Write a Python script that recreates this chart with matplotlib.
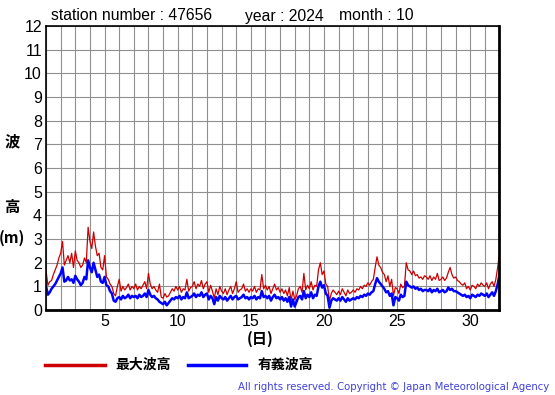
import numpy as np
import matplotlib
matplotlib.use('Agg')
from matplotlib import pyplot as plt

station = '47656'
year = 2024
month = 10
step_hours = 3

# significant wave height (m), 3-hourly from day 1 00h
sig_wave = [
    1.00, 0.65, 0.75, 0.90, 1.00, 1.10, 1.25, 1.40,
    1.55, 1.80, 1.20, 1.25, 1.40, 1.25, 1.30, 1.15,
    1.45, 1.30, 1.20, 1.05, 1.15, 1.40, 1.30, 2.10,
    1.80, 1.60, 2.00, 1.70, 1.40, 1.50, 1.20, 1.15,
    1.40, 1.05, 1.00, 0.80, 0.70, 0.40, 0.35, 0.50,
    0.55, 0.45, 0.60, 0.50, 0.55, 0.65, 0.50, 0.60,
    0.55, 0.60, 0.50, 0.65, 0.55, 0.60, 0.70, 0.55,
    0.85, 0.65, 0.55, 0.60, 0.50, 0.45, 0.35, 0.30,
    0.25, 0.35, 0.20, 0.30, 0.40, 0.50, 0.45, 0.55,
    0.50, 0.60, 0.45, 0.55, 0.50, 0.75, 0.50, 0.55,
    0.60, 0.70, 0.55, 0.65, 0.60, 0.75, 0.55, 0.65,
    0.70, 0.45, 0.60, 0.50, 0.25, 0.55, 0.40, 0.60,
    0.50, 0.45, 0.55, 0.40, 0.50, 0.60, 0.45, 0.55,
    0.60, 0.45, 0.50, 0.55, 0.65, 0.50, 0.55, 0.45,
    0.55, 0.50, 0.60, 0.45, 0.55, 0.50, 0.80, 0.55,
    0.60, 0.50, 0.60, 0.40, 0.55, 0.65, 0.50, 0.55,
    0.45, 0.55, 0.40, 0.50, 0.35, 0.55, 0.15, 0.45,
    0.15, 0.35, 0.55, 0.60, 0.45, 0.80, 0.50, 0.65,
    0.55, 0.75, 0.50, 0.65, 0.60, 1.00, 1.20, 0.95,
    1.05, 0.70, 0.60, 0.10, 0.40, 0.50, 0.45, 0.40,
    0.50, 0.40, 0.55, 0.45, 0.35, 0.50, 0.40, 0.45,
    0.50, 0.45, 0.55, 0.50, 0.60, 0.55, 0.65, 0.60,
    0.70, 0.65, 0.75, 0.80, 1.10, 1.35, 1.20, 1.10,
    1.00, 0.90, 0.75, 0.80, 0.60, 0.70, 0.20, 0.55,
    0.50, 0.40, 0.65, 0.55, 0.60, 1.20, 1.05, 1.00,
    0.95, 1.00, 0.90, 0.95, 0.85, 0.90, 0.80, 0.85,
    0.85, 0.80, 0.90, 0.75, 0.85, 0.80, 0.90, 0.75,
    0.80, 0.85, 0.75, 0.80, 0.95, 0.85, 0.90, 0.80,
    0.80, 0.75, 0.70, 0.65, 0.60, 0.65, 0.55, 0.60,
    0.50, 0.65, 0.60, 0.55, 0.65, 0.60, 0.70, 0.65,
    0.60, 0.70, 0.55, 0.65, 0.75, 0.60, 0.80, 1.10,
    1.50,
]

# maximum wave height (m)
max_wave = [
    1.65, 1.05, 1.20, 1.25, 1.50, 1.70, 1.90, 2.20,
    2.40, 2.90, 1.90, 2.10, 2.30, 2.00, 2.40, 1.80,
    2.50, 2.10, 2.00, 1.80, 1.90, 2.20, 2.00, 3.50,
    2.90, 2.60, 3.30, 2.70, 2.30, 2.40, 1.80, 1.70,
    2.30, 1.40, 1.30, 1.10, 1.00, 0.70, 0.60, 1.00,
    1.30, 0.80, 1.00, 0.85, 0.95, 1.10, 0.85, 1.00,
    0.90, 1.10, 0.85, 1.00, 0.90, 1.05, 1.20, 0.90,
    1.55, 1.10, 0.90, 1.00, 0.85, 0.75, 1.10, 0.55,
    0.50, 0.70, 0.55, 0.60, 0.75, 0.90, 0.80, 1.00,
    0.85, 1.00, 0.75, 0.90, 0.85, 1.30, 0.80, 0.95,
    1.00, 1.20, 0.90, 1.10, 1.00, 1.25, 0.90, 1.10,
    1.20, 0.75, 1.05, 0.80, 0.50, 0.90, 0.65, 1.00,
    0.80, 0.70, 0.90, 0.65, 0.85, 1.00, 0.70, 0.90,
    1.20, 0.75, 0.85, 0.90, 1.10, 0.80, 0.90, 0.75,
    0.90, 0.80, 1.00, 0.75, 0.90, 0.85, 1.50, 0.90,
    1.05, 0.85, 1.00, 0.70, 0.90, 1.10, 0.85, 0.95,
    0.75, 0.90, 0.70, 0.85, 0.60, 0.95, 0.40, 0.80,
    0.45, 0.60, 0.90, 1.00, 0.75, 1.55, 0.85, 1.05,
    0.90, 1.20, 0.85, 1.05, 1.00, 1.70, 2.00, 1.50,
    1.65, 1.10, 1.00, 0.40, 0.70, 0.85, 0.75, 0.65,
    0.80, 0.65, 0.90, 0.75, 0.60, 0.85, 0.70, 0.75,
    0.85, 0.75, 0.90, 0.85, 1.00, 0.90, 1.05, 1.00,
    1.15, 1.05, 1.20, 1.30, 1.80, 2.25, 1.90, 1.80,
    1.60, 1.50, 1.20, 1.45, 1.00, 1.30, 0.60, 0.95,
    0.90, 0.70, 1.10, 0.95, 1.00, 2.00, 1.70, 1.65,
    1.50, 1.65, 1.45, 1.50, 1.35, 1.40, 1.30, 1.45,
    1.40, 1.30, 1.45, 1.25, 1.40, 1.30, 1.55, 1.25,
    1.30, 1.40, 1.25, 1.35, 1.60, 1.80, 1.50, 1.35,
    1.40, 1.25, 1.20, 1.10, 1.05, 1.15, 0.90, 1.00,
    0.85, 1.05, 1.00, 0.90, 1.10, 1.00, 1.15, 1.05,
    1.00, 1.15, 0.90, 1.10, 1.20, 1.00, 1.30, 1.80,
    2.40,
]

x_ticks = [5, 10, 15, 20, 25, 30]
y_ticks = list(range(0, 13))
legend_labels = ['最大波高', '有義波高']

days = 1 + np.arange(len(sig_wave)) * step_hours / 24.0

plt.rcParams['font.family'] = ['Liberation Sans', 'DejaVu Sans']
cjk = ['Noto Sans CJK JP', 'DejaVu Sans']
W, H = 555.0, 395.0

fig = plt.figure(figsize=(5.55, 3.95), dpi=100)
ax = fig.add_axes([0.083, 0.215, 0.817, 0.719])

ax.plot(days, max_wave, color='#cc0000', lw=0.9)
ax.plot(days, sig_wave, color='#0000ff', lw=1.8)

ax.set_xlim(1, 32)
ax.set_ylim(0, 12)
ax.set_xticks(range(1, 33), minor=True)
ax.set_xticks(x_ticks)
ax.set_yticks(y_ticks)
ax.grid(True, which='both', color='#909090', lw=0.8)
ax.tick_params(which='both', length=0, labelsize=11.5, pad=3)
for s in ax.spines.values():
    s.set_linewidth(1.2)
ax.spines['right'].set_linewidth(2)
ax.spines['bottom'].set_linewidth(2)

# header
ty = 1 - 16 / H
fig.text(51 / W, ty, 'station number : %s' % station, fontsize=11.3, va='center')
fig.text(245 / W, ty, 'year : %d' % year, fontsize=11.3, va='center')
fig.text(339 / W, ty, 'month : %d' % month, fontsize=11.3, va='center')

fig.text(12 / W, 1 - 141 / H, '波', family=cjk, fontsize=11, weight='bold', ha='center', va='center')
fig.text(12 / W, 1 - 207 / H, '高', family=cjk, fontsize=11, weight='bold', ha='center', va='center')
fig.text(12 / W, 1 - 238 / H, '(m)', family=cjk, fontsize=11, weight='bold', ha='center', va='center')
fig.text(260 / W, 1 - 339 / H, '(日)', family=cjk, fontsize=11, weight='bold', ha='center', va='center')

# legend drawn by hand
ly = 1 - 365 / H
fig.add_artist(plt.Line2D([45 / W, 105 / W], [ly, ly], color='#cc0000', lw=2.5))
fig.text(115 / W, ly, legend_labels[0], family=cjk, fontsize=10, weight='bold', va='center')
fig.add_artist(plt.Line2D([188 / W, 246 / W], [ly, ly], color='#0000ff', lw=2.5))
fig.text(258 / W, ly, legend_labels[1], family=cjk, fontsize=10, weight='bold', va='center')

fig.text(549 / W, 1 - 387 / H, 'All rights reserved. Copyright \u00a9 Japan Meteorological Agency',
         family='DejaVu Sans', fontsize=7.3, color='#4040dd', ha='right', va='center')

fig.savefig('out.png', dpi=100)
